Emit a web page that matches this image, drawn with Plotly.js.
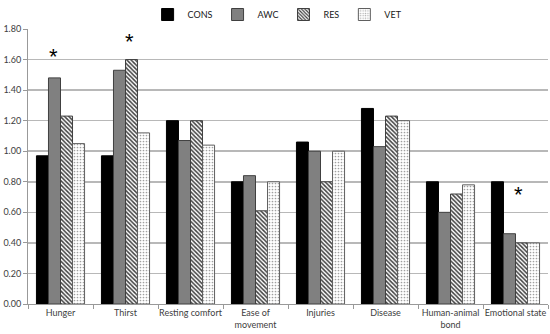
<!DOCTYPE html>
<html>
<head>
<meta charset="utf-8">
<script src="https://cdn.plot.ly/plotly-3.0.1.min.js"></script>
<style>html,body{margin:0;padding:0;background:#fff;}#chart{width:550px;height:334px;}</style>
</head>
<body>
<div id="chart"></div>
<script>
var categories = ["Hunger", "Thirst", "Resting comfort", "Ease of<br>movement", "Injuries", "Disease", "Human-animal<br>bond", "Emotional state"];
var consValues = [0.97, 0.97, 1.20, 0.80, 1.06, 1.28, 0.80, 0.80];
var awcValues  = [1.48, 1.53, 1.07, 0.84, 1.00, 1.03, 0.60, 0.46];
var resValues  = [1.23, 1.60, 1.20, 0.61, 0.80, 1.23, 0.72, 0.40];
var vetValues  = [1.05, 1.12, 1.04, 0.80, 1.00, 1.20, 0.78, 0.40];
var yTicks = [0, 0.2, 0.4, 0.6, 0.8, 1.0, 1.2, 1.4, 1.6, 1.8];
var asteriskCats = ["Hunger", "Thirst", "Emotional state"];
var asteriskY = [1.62, 1.72, 0.72];
var asteriskShift = [-7, 4, 3];

var font = {family: "Lato, 'Open Sans', sans-serif", size: 9, color: "#404040"};

var traces = [
  {type: "bar", name: "CONS", x: categories, y: consValues,
   marker: {color: "#000000", line: {color: "#000000", width: 1}}},
  {type: "bar", name: "AWC", x: categories, y: awcValues,
   marker: {color: "#808080", line: {color: "#404040", width: 1}}},
  {type: "bar", name: "RES", x: categories, y: resValues,
   marker: {color: "#ffffff", line: {color: "#404040", width: 1},
            pattern: {shape: "\\", fgcolor: "#404040", bgcolor: "#ffffff", size: 3, solidity: 0.5}}},
  {type: "bar", name: "VET", x: categories, y: vetValues,
   marker: {color: "#ffffff", line: {color: "#606060", width: 1},
            pattern: {shape: ".", fgcolor: "#a0a0a0", bgcolor: "#ffffff", size: 3, solidity: 0.25}}}
];

var annotations = asteriskCats.map(function (c, i) {
  return {x: c, y: asteriskY[i], xref: "x", yref: "y", text: "*", showarrow: false,
          xshift: asteriskShift[i], yanchor: "middle",
          font: {family: "Liberation Sans, Arial, sans-serif", size: 22, color: "#000"}};
});

var layout = {
  width: 550, height: 334,
  margin: {l: 28, r: 2, t: 22, b: 30, pad: 0},
  paper_bgcolor: "#fff", plot_bgcolor: "#fff",
  font: font,
  barmode: "group", bargap: 0.26, bargroupgap: 0,
  showlegend: true,
  legend: {orientation: "h", xref: "paper", x: 0.48, xanchor: "center",
           yref: "container", y: 1, yanchor: "top",
           font: {family: "Lato, sans-serif", size: 9, color: "#202020"},
           itemwidth: 30, traceorder: "normal", tracegroupgap: 0},
  xaxis: {type: "category", showline: true, linecolor: "#999", linewidth: 1,
          ticks: "outside", tickson: "boundaries", ticklen: 4, tickcolor: "#999",
          tickangle: 0, showgrid: false, tickfont: font, automargin: false},
  yaxis: {range: [0, 1.8], tickvals: yTicks, tickformat: ".2f",
          showline: true, linecolor: "#999", linewidth: 1,
          ticks: "outside", ticklen: 4, tickcolor: "#999",
          showgrid: true, gridcolor: "#b8b8b8", gridwidth: 1.5,
          zeroline: false, tickfont: font, automargin: false},
  annotations: annotations
};

Plotly.newPlot("chart", traces, layout, {displayModeBar: false, staticPlot: true});
</script>
</body>
</html>
